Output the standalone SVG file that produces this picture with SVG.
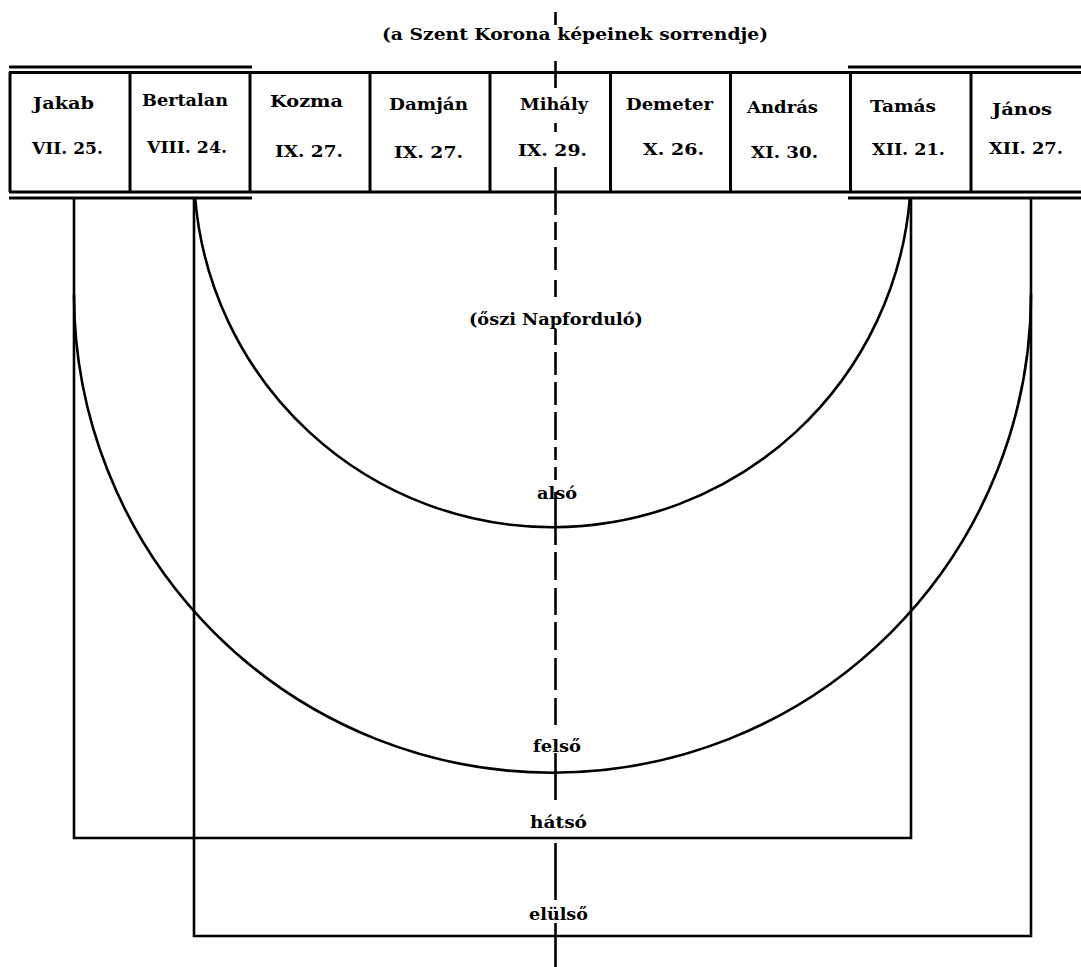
<svg xmlns="http://www.w3.org/2000/svg" width="1081" height="967" viewBox="0 0 1081 967">
<style>
.t{font-family:"DejaVu Serif","Liberation Serif",serif;font-weight:bold;font-size:17px;fill:#000;text-anchor:start}
.ln{stroke:#000;stroke-width:3;fill:none}
.cn{stroke:#000;stroke-width:2.6;fill:none}
.ax{stroke:#000;stroke-width:2.6;fill:none}
</style>
<rect width="1081" height="967" fill="#fff"/>
<text class="t" x="382" y="40" textLength="386" lengthAdjust="spacingAndGlyphs">(a Szent Korona képeinek sorrendje)</text>
<g id="table-frame">
<line class="ln" x1="9" y1="67" x2="252" y2="67"/>
<line class="ln" x1="848" y1="67" x2="1081" y2="67"/>
<line class="ln" x1="9" y1="72.5" x2="1081" y2="72.5"/>
<line class="ln" x1="9" y1="192" x2="1081" y2="192"/>
<line class="ln" x1="9" y1="198" x2="252" y2="198"/>
<line class="ln" x1="848" y1="198" x2="1081" y2="198"/>
</g>
<g id="cell-jakab"><line class="ln" x1="10" y1="72" x2="10" y2="192"/><text class="t" x="33" y="109" textLength="61" lengthAdjust="spacingAndGlyphs">Jakab</text><text class="t" x="32" y="154" textLength="71" lengthAdjust="spacingAndGlyphs">VII. 25.</text></g>
<g id="cell-bertalan"><line class="ln" x1="130" y1="72" x2="130" y2="192"/><text class="t" x="142" y="106" textLength="86" lengthAdjust="spacingAndGlyphs">Bertalan</text><text class="t" x="147" y="153" textLength="80" lengthAdjust="spacingAndGlyphs">VIII. 24.</text></g>
<g id="cell-kozma"><line class="ln" x1="250" y1="72" x2="250" y2="192"/><text class="t" x="270" y="107" textLength="73" lengthAdjust="spacingAndGlyphs">Kozma</text><text class="t" x="275" y="157" textLength="68" lengthAdjust="spacingAndGlyphs">IX. 27.</text></g>
<g id="cell-damjan"><line class="ln" x1="370" y1="72" x2="370" y2="192"/><text class="t" x="389" y="110" textLength="79" lengthAdjust="spacingAndGlyphs">Damján</text><text class="t" x="394" y="158" textLength="69" lengthAdjust="spacingAndGlyphs">IX. 27.</text></g>
<g id="cell-mihaly"><line class="ln" x1="490" y1="72" x2="490" y2="192"/><text class="t" x="520" y="110" textLength="68" lengthAdjust="spacingAndGlyphs">Mihály</text><text class="t" x="518" y="156" textLength="69" lengthAdjust="spacingAndGlyphs">IX. 29.</text></g>
<g id="cell-demeter"><line class="ln" x1="610.5" y1="72" x2="610.5" y2="192"/><text class="t" x="626" y="110" textLength="87" lengthAdjust="spacingAndGlyphs">Demeter</text><text class="t" x="643" y="155" textLength="61" lengthAdjust="spacingAndGlyphs">X. 26.</text></g>
<g id="cell-andras"><line class="ln" x1="730.5" y1="72" x2="730.5" y2="192"/><text class="t" x="747" y="113" textLength="71" lengthAdjust="spacingAndGlyphs">András</text><text class="t" x="751" y="158" textLength="67" lengthAdjust="spacingAndGlyphs">XI. 30.</text></g>
<g id="cell-tamas"><line class="ln" x1="850.5" y1="72" x2="850.5" y2="192"/><text class="t" x="870" y="112" textLength="66" lengthAdjust="spacingAndGlyphs">Tamás</text><text class="t" x="872" y="155" textLength="73" lengthAdjust="spacingAndGlyphs">XII. 21.</text></g>
<g id="cell-janos"><line class="ln" x1="971" y1="72" x2="971" y2="192"/><text class="t" x="992" y="115" textLength="60" lengthAdjust="spacingAndGlyphs">János</text><text class="t" x="989" y="154" textLength="74" lengthAdjust="spacingAndGlyphs">XII. 27.</text></g>
<g id="connectors">
<path class="cn" d="M195.2,198 A358.5,358.5 0 0 0 909.8,198"/>
<path class="cn" d="M74,294.2 A478.5,478.5 0 0 0 1031,294.2"/>
<path class="cn" d="M74,198 V838 H911 V198"/>
<path class="cn" d="M194,198 V936 H1031 V198"/>
</g>
<g id="axis">
<path class="ax" d="M555.5,12 V25 M555.5,61 V88 M555.5,123 V132 M555.5,167 V215 M555.5,222 V240 M555.5,247 V270 M555.5,280 V297 M555.5,329 V345 M555.5,352 V375 M555.5,382 V405 M555.5,412 V440 M555.5,447 V460 M555.5,467 V480 M555.5,492 V545 M555.5,552 V580 M555.5,588 V615 M555.5,622 V650 M555.5,658 V690 M555.5,698 V725 M555.5,753 V800 M555.5,843 V900 M555.5,923 V967"/>
</g>
<g id="labels">
<text class="t" x="469" y="325" textLength="174" lengthAdjust="spacingAndGlyphs">(őszi Napforduló)</text>
<text class="t" x="537" y="499" textLength="40" lengthAdjust="spacingAndGlyphs">alsó</text>
<text class="t" x="533" y="752" textLength="48" lengthAdjust="spacingAndGlyphs">felső</text>
<text class="t" x="530" y="828" textLength="57" lengthAdjust="spacingAndGlyphs">hátsó</text>
<text class="t" x="529" y="920" textLength="59" lengthAdjust="spacingAndGlyphs">elülső</text>
</g>
</svg>
